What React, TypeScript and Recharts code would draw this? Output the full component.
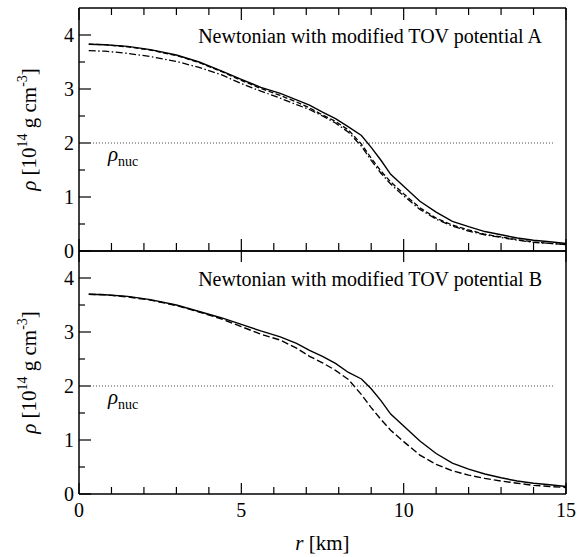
import { LineChart, Line, XAxis, YAxis, ReferenceLine } from "recharts";

// radial grid shared by every profile [km]
const radius = [0.3, 0.8, 1.5, 2.2, 3, 3.7, 4.4, 5, 5.6, 6.2, 6.7, 7.1, 7.5, 7.9, 8.3, 8.7, 9.0, 9.3, 9.6, 10, 10.5, 11, 11.5, 12, 12.5, 13, 13.5, 14, 14.5, 15];

// potential A, density in 1e14 g/cm^3
const rhoA_solid = [3.83, 3.82, 3.79, 3.73, 3.63, 3.5, 3.33, 3.18, 3.03, 2.92, 2.8, 2.7, 2.57, 2.45, 2.3, 2.14, 1.92, 1.68, 1.42, 1.2, 0.92, 0.72, 0.55, 0.45, 0.36, 0.3, 0.24, 0.2, 0.17, 0.14];
const rhoA_dashed = [3.83, 3.82, 3.78, 3.72, 3.62, 3.49, 3.32, 3.16, 3.01, 2.88, 2.76, 2.65, 2.52, 2.4, 2.24, 1.98, 1.72, 1.48, 1.28, 1.06, 0.8, 0.61, 0.48, 0.39, 0.31, 0.26, 0.21, 0.17, 0.14, 0.12];
const rhoA_dashdot = [3.71, 3.7, 3.66, 3.6, 3.51, 3.4, 3.26, 3.1, 2.96, 2.83, 2.71, 2.62, 2.5, 2.37, 2.2, 1.94, 1.68, 1.44, 1.24, 1.02, 0.77, 0.59, 0.46, 0.37, 0.3, 0.25, 0.2, 0.16, 0.14, 0.12];

// potential B
const rhoB_solid = [3.7, 3.69, 3.66, 3.6, 3.5, 3.38, 3.26, 3.14, 3.02, 2.91, 2.79, 2.66, 2.55, 2.42, 2.25, 2.13, 1.95, 1.73, 1.48, 1.26, 0.98, 0.75, 0.57, 0.46, 0.37, 0.3, 0.24, 0.2, 0.17, 0.14];
const rhoB_dashed = [3.7, 3.69, 3.65, 3.59, 3.49, 3.37, 3.24, 3.1, 2.96, 2.85, 2.7, 2.55, 2.43, 2.29, 2.12, 1.84, 1.6, 1.38, 1.18, 0.97, 0.72, 0.55, 0.43, 0.35, 0.29, 0.24, 0.2, 0.16, 0.14, 0.12];

const rTicks = [0, 1, 2, 3, 4, 5, 6, 7, 8, 9, 10, 11, 12, 13, 14, 15];
const rhoTicks = [0, 0.5, 1, 1.5, 2, 2.5, 3, 3.5, 4];
const rhoNuc = 2;
const nucSpan = [0.43, 14.6];

const FONT = "Liberation Serif, Times New Roman, serif";
const txt = { fontFamily: FONT };

const rowsA = radius.map((r, i) => ({ r, s: rhoA_solid[i], d: rhoA_dashed[i], dd: rhoA_dashdot[i] }));
const rowsB = radius.map((r, i) => ({ r, s: rhoB_solid[i], d: rhoB_dashed[i] }));

// x ticks point into the frame; the shared edge gets long major ticks crossing it
function xTick(kind: "top" | "shared" | "bottom") {
  return (props: any) => {
    const { x, y, payload } = props;
    const major = payload.value % 5 === 0;
    if (kind === "top") {
      return <line x1={x} x2={x} y1={y} y2={y + (major ? 12 : 7)} stroke="#000" strokeWidth={1.2} />;
    }
    if (kind === "shared") {
      return <line x1={x} x2={x} y1={major ? y + 11 : y} y2={y - (major ? 12 : 8)} stroke="#000" strokeWidth={1.2} />;
    }
    return (
      <g>
        <line x1={x} x2={x} y1={y} y2={y - (major ? 11 : 7)} stroke="#000" strokeWidth={1.2} />
        {major && (
          <text x={x} y={y + 23} textAnchor="middle" fontSize={20} style={txt} fill="#000">
            {payload.value}
          </text>
        )}
      </g>
    );
  };
}

function yTick(side: "left" | "right") {
  return (props: any) => {
    const { x, y, payload } = props;
    const major = Number.isInteger(payload.value);
    const len = major ? 12 : 6;
    if (side === "right") {
      return <line x1={x} x2={x - len} y1={y} y2={y} stroke="#000" strokeWidth={1.2} />;
    }
    return (
      <g>
        <line x1={x} x2={x + len} y1={y} y2={y} stroke="#000" strokeWidth={1.2} />
        {major && (
          <text x={x - 5} y={y} dy="0.35em" textAnchor="end" fontSize={20} style={txt} fill="#000">
            {payload.value}
          </text>
        )}
      </g>
    );
  };
}

function RhoAxisLabel(props: any) {
  const { viewBox } = props;
  const cx = viewBox.x - 42;
  const cy = viewBox.y + viewBox.height / 2;
  return (
    <text transform={`rotate(-90, ${cx}, ${cy})`} x={cx} y={cy} textAnchor="middle" fontSize={21} style={txt} fill="#000">
      <tspan fontStyle="italic">ρ</tspan>
      <tspan> [10</tspan>
      <tspan dy={-9} fontSize={14}>14</tspan>
      <tspan dy={9}> g cm</tspan>
      <tspan dy={-9} fontSize={14}>-3</tspan>
      <tspan dy={9}>]</tspan>
    </text>
  );
}

function NucLabel(props: any) {
  const { viewBox } = props;
  return (
    <text x={viewBox.x + 15} y={viewBox.y + 18} fontSize={21} style={txt} fill="#000">
      <tspan fontStyle="italic">ρ</tspan>
      <tspan dy={5} fontSize={14}>nuc</tspan>
    </text>
  );
}

function titleLabel(text: string) {
  return (props: any) => {
    const { viewBox } = props;
    return (
      <text x={viewBox.x + viewBox.width - 24} y={viewBox.y + 36} textAnchor="end" fontSize={20} style={txt} fill="#000">
        {text}
      </text>
    );
  };
}

function RadiusLabel(props: any) {
  const { viewBox } = props;
  return (
    <text x={viewBox.x + viewBox.width / 2} y={viewBox.y + 56} textAnchor="middle" fontSize={21} style={txt} fill="#000">
      <tspan fontStyle="italic">r</tspan>
      <tspan> [km]</tspan>
    </text>
  );
}

const axisLine = { stroke: "#000", strokeWidth: 1.5 };

function Panel({ rows, title, bottom, children }: { rows: any[]; title: string; bottom: boolean; children: any }) {
  return (
    <LineChart
      width={580}
      height={bottom ? 314 : 272}
      data={rows}
      margin={{ top: 7, right: 13, bottom: bottom ? 62 : 20, left: 78 }}
    >
      <XAxis
        dataKey="r"
        type="number"
        domain={[0, 15]}
        ticks={rTicks}
        interval={0}
        height={1}
        tickSize={0}
        tickMargin={0}
        tickLine={false}
        axisLine={axisLine}
        tick={xTick(bottom ? "bottom" : "shared")}
        label={bottom ? { content: RadiusLabel } : undefined}
      />
      <XAxis
        xAxisId="top"
        orientation="top"
        dataKey="r"
        type="number"
        domain={[0, 15]}
        ticks={rTicks}
        interval={0}
        height={1}
        tickSize={0}
        tickMargin={0}
        tickLine={false}
        axisLine={axisLine}
        tick={bottom ? false : xTick("top")}
        label={{ content: titleLabel(title) }}
      />
      <YAxis
        type="number"
        domain={[0, 4.5]}
        ticks={rhoTicks}
        interval={0}
        width={1}
        tickSize={0}
        tickMargin={0}
        tickLine={false}
        axisLine={axisLine}
        tick={yTick("left")}
        label={{ content: RhoAxisLabel }}
      />
      <YAxis
        yAxisId="right"
        orientation="right"
        type="number"
        domain={[0, 4.5]}
        ticks={rhoTicks}
        interval={0}
        width={1}
        tickSize={0}
        tickMargin={0}
        tickLine={false}
        axisLine={axisLine}
        tick={yTick("right")}
      />
      <ReferenceLine
        segment={[{ x: nucSpan[0], y: rhoNuc }, { x: nucSpan[1], y: rhoNuc }]}
        stroke="#444"
        strokeWidth={1}
        strokeDasharray="1 2"
        label={{ content: NucLabel }}
      />
      {children}
    </LineChart>
  );
}

export default function App() {
  return (
    <div style={{ position: "absolute", left: 0, top: 0, width: 580, height: 557, background: "#fff", fontFamily: FONT }}>
      <div style={{ position: "absolute", left: 0, top: 0 }}>
        <Panel rows={rowsA} title="Newtonian with modified TOV potential A" bottom={false}>
          <Line dataKey="dd" type="linear" stroke="#000" strokeWidth={1.3} strokeDasharray="7 2.5 1.5 2.5" dot={false} isAnimationActive={false} />
          <Line dataKey="d" type="linear" stroke="#000" strokeWidth={1.3} strokeDasharray="5 2.5" dot={false} isAnimationActive={false} />
          <Line dataKey="s" type="linear" stroke="#000" strokeWidth={1.4} dot={false} isAnimationActive={false} />
        </Panel>
      </div>
      <div style={{ position: "absolute", left: 0, top: 243 }}>
        <Panel rows={rowsB} title="Newtonian with modified TOV potential B" bottom={true}>
          <Line dataKey="d" type="linear" stroke="#000" strokeWidth={1.4} strokeDasharray="7 3" dot={false} isAnimationActive={false} />
          <Line dataKey="s" type="linear" stroke="#000" strokeWidth={1.4} dot={false} isAnimationActive={false} />
        </Panel>
      </div>
    </div>
  );
}
